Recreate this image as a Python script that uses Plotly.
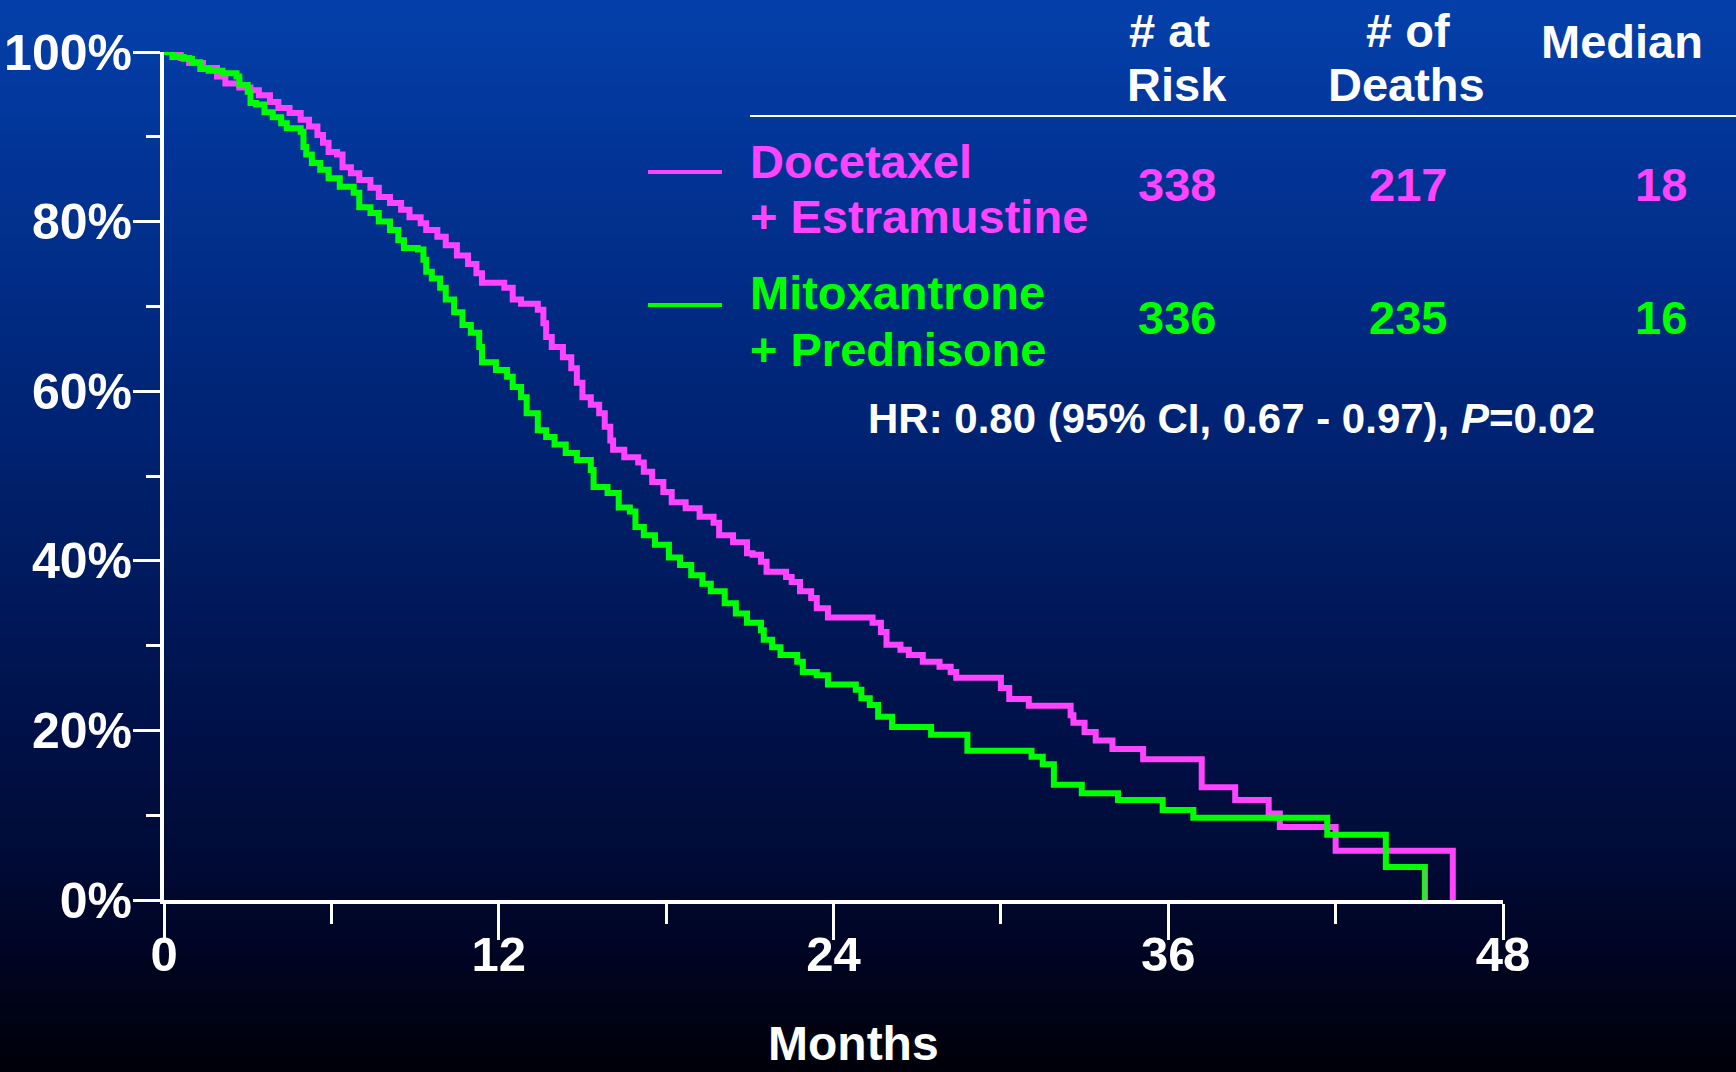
import plotly.graph_objects as go

# Kaplan-Meier steps (months, % surviving)
doc_months = [0, 0.6, 0.9, 1.4, 1.9, 2.2, 2.7, 3.1, 3.4, 3.8, 4.1, 4.5, 4.9, 5.2, 5.5, 5.7, 5.9, 6.2, 6.4, 6.7,
              7.0, 7.4, 7.7, 8.1, 8.5, 8.8, 9.2, 9.4, 9.8, 10.1, 10.5, 10.9, 11.2, 11.4, 12.2, 12.5, 12.8, 13.4,
              13.6, 13.7, 13.9, 14.3, 14.6, 14.8, 15.0, 15.3, 15.6, 15.8, 16.0, 16.1, 16.5, 17.0, 17.2, 17.5,
              17.9, 18.2, 18.7, 19.2, 19.7, 19.9, 20.4, 20.9, 21.1, 21.4, 21.6, 22.3, 22.5, 22.8, 23.2, 23.4,
              23.8, 25.4, 25.7, 25.9, 26.4, 26.7, 27.2, 27.8, 28.2, 28.4, 30.0, 30.3, 31.0, 32.5, 32.6, 33.0,
              33.4, 34.0, 35.1, 37.2, 38.4, 39.6, 40.0, 42.0, 46.2]
doc_surv = [100, 99.3, 98.7, 98.1, 97.1, 96.3, 95.8, 95.5, 94.9, 94.1, 93.4, 92.8, 92.0, 91.2, 90.2, 89.3, 88.2,
            87.9, 86.4, 85.7, 84.9, 84.0, 82.9, 82.2, 81.4, 80.5, 79.8, 79.0, 78.2, 77.2, 76.0, 75.0, 73.9, 72.8,
            72.2, 70.8, 70.3, 69.6, 68.0, 66.4, 65.2, 64.0, 62.7, 61.0, 59.3, 58.4, 57.4, 55.8, 54.2, 53.1, 52.2,
            51.6, 50.5, 49.3, 48.1, 46.9, 46.2, 45.2, 44.5, 43.0, 42.2, 40.9, 40.7, 39.9, 38.7, 38.1, 37.5, 36.4,
            35.6, 34.4, 33.3, 32.7, 31.6, 30.1, 29.5, 28.9, 28.1, 27.5, 26.9, 26.2, 25.0, 23.7, 22.9, 21.8, 20.9,
            19.8, 18.8, 17.8, 16.6, 13.3, 11.8, 10.2, 8.6, 5.8, 0]

mit_months = [0, 0.3, 0.7, 1.0, 1.3, 1.6, 2.1, 2.6, 2.7, 3.0, 3.1, 3.3, 3.6, 3.9, 4.2, 4.4, 4.9, 5.0, 5.1, 5.3,
              5.6, 5.9, 6.3, 6.8, 7.0, 7.4, 7.7, 8.1, 8.4, 8.6, 9.1, 9.3, 9.4, 9.6, 9.9, 10.1, 10.4, 10.7, 11.0,
              11.3, 11.4, 11.9, 12.3, 12.5, 12.8, 13.0, 13.4, 13.7, 14.0, 14.4, 14.8, 15.3, 15.4, 15.9, 16.3,
              16.7, 16.9, 17.2, 17.6, 18.1, 18.5, 18.9, 19.3, 19.6, 20.1, 20.5, 20.9, 21.4, 21.5, 21.8, 22.1,
              22.7, 22.9, 23.4, 23.8, 24.8, 25.0, 25.3, 25.6, 26.1, 27.5, 28.8, 31.1, 31.5, 31.9, 32.9, 34.2,
              35.8, 36.9, 41.7, 43.8, 45.2]
mit_surv = [100, 99.4, 99.2, 98.8, 98.0, 97.8, 97.5, 97.1, 96.1, 95.3, 94.0, 93.8, 92.9, 92.3, 91.6, 91.0, 90.6,
            88.8, 87.9, 86.9, 86.1, 85.1, 84.1, 83.4, 81.7, 81.0, 80.0, 79.0, 77.8, 76.9, 76.7, 75.5, 74.1, 73.3,
            72.2, 70.8, 69.3, 67.8, 66.9, 65.2, 63.4, 62.5, 61.7, 60.5, 59.3, 57.4, 55.4, 54.6, 53.7, 52.7, 51.9,
            50.7, 48.7, 48.0, 46.3, 45.8, 44.0, 43.0, 41.9, 40.4, 39.5, 38.3, 37.3, 36.4, 35.0, 33.8, 32.7, 31.8,
            30.7, 29.8, 28.9, 28.1, 26.9, 26.5, 25.4, 24.8, 23.8, 23.0, 21.6, 20.4, 19.5, 17.6, 16.9, 16.0, 13.6,
            12.6, 11.8, 10.6, 9.7, 7.7, 3.9, 0]

# summary table
arm_lines = [["Docetaxel", "+ Estramustine"], ["Mitoxantrone", "+ Prednisone"]]
at_risk = [338, 336]
deaths = [217, 235]
medians = [18, 16]
col_headers = [["# at", "Risk"], ["# of", "Deaths"], ["Median"]]
hr_text = "HR: 0.80 (95% CI, 0.67 - 0.97), <i>P</i>=0.02"

x_ticks = [0, 12, 24, 36, 48]
y_ticks = [0, 20, 40, 60, 80, 100]

MAGENTA = "#ff44ff"
GREEN = "#00ff00"
FONT = "Liberation Sans, Arial, sans-serif"

W, H = 1736, 1072
L, R, T, B = 164, 1503, 52, 900  # plot area in pixels


def px(x, y):
    """pixel position -> paper coords"""
    return (x - L) / (R - L), (B - y) / (B - T)


fig = go.Figure()

# background gradient as stacked bands
stops = [(0.0, (4, 64, 170)), (0.15, (2, 52, 150)), (0.35, (0, 38, 122)), (0.55, (0, 25, 92)),
         (0.75, (0, 13, 62)), (0.88, (0, 5, 38)), (1.0, (0, 0, 8))]
n_bands = 64
for i in range(n_bands):
    f = (i + 0.5) / n_bands
    for (a, ca), (b, cb) in zip(stops[:-1], stops[1:]):
        if a <= f <= b:
            k = (f - a) / (b - a)
            col = tuple(round(ca[j] + (cb[j] - ca[j]) * k) for j in range(3))
            break
    x0, y0 = px(0, H * i / n_bands)
    x1, y1 = px(W, H * (i + 1) / n_bands + 1)
    fig.add_shape(type="rect", xref="paper", yref="paper", x0=x0, x1=x1, y0=y1, y1=y0,
                  fillcolor="rgb(%d,%d,%d)" % col, line_width=0, layer="below")

fig.add_trace(go.Scatter(x=doc_months, y=doc_surv, mode="lines", line=dict(color=MAGENTA, width=6, shape="hv"),
                         showlegend=False, hoverinfo="skip"))
fig.add_trace(go.Scatter(x=mit_months, y=mit_surv, mode="lines", line=dict(color=GREEN, width=6, shape="hv"),
                         showlegend=False, hoverinfo="skip"))
# last drop of the green curve is drawn lighter on the slide
fig.add_trace(go.Scatter(x=[mit_months[-1], mit_months[-1]], y=[mit_surv[-2], mit_surv[-1]], mode="lines",
                         line=dict(color="#55cc55", width=4), showlegend=False, hoverinfo="skip"))

annotations = []


def label(text, x, y, color="white", size=47, anchor="center", yanchor="middle"):
    xp, yp = px(x, y)
    annotations.append(dict(text="<b>%s</b>" % text, x=xp, y=yp, xref="paper", yref="paper",
                            xanchor=anchor, yanchor=yanchor, showarrow=False,
                            font=dict(family=FONT, size=size, color=color)))


# table headers
label(col_headers[0][0], 1169, 31)
label(col_headers[0][1], 1177, 85)
label(col_headers[1][0], 1408, 30)
label(col_headers[1][1], 1406, 85)
label(col_headers[2][0], 1622, 41)

row_y = [(161, 217, 185), (292, 350, 318)]
colors = [MAGENTA, GREEN]
for i in range(2):
    y1, y2, ym = row_y[i]
    label(arm_lines[i][0], 748, y1, colors[i], anchor="left")
    label(arm_lines[i][1], 748, y2, colors[i], anchor="left")
    label(str(at_risk[i]), 1177, ym, colors[i])
    label(str(deaths[i]), 1408, ym, colors[i])
    label(str(medians[i]), 1661, ym, colors[i])
    lx0, ly = px(648, ym - 13)
    lx1, _ = px(722, ym - 13)
    fig.add_shape(type="line", xref="paper", yref="paper", x0=lx0, x1=lx1, y0=ly, y1=ly,
                  line=dict(color=colors[i], width=4))

# rule under the headers
rx0, ry = px(750, 116)
rx1, _ = px(W, 116)
fig.add_shape(type="line", xref="paper", yref="paper", x0=rx0, x1=rx1, y0=ry, y1=ry,
              line=dict(color="white", width=2))

label(hr_text, 1231, 418, size=42)
label("Months", 853, 1072, size=48, yanchor="bottom")

fig.update_xaxes(range=[0, 48], tickvals=x_ticks, ticks="outside", ticklen=36, tickwidth=3, tickcolor="white",
                 showline=True, linecolor="white", linewidth=4, showgrid=False, zeroline=False,
                 automargin=False, ticklabelstandoff=-28,
                 tickfont=dict(family=FONT, size=49, color="white", weight="bold"),
                 minor=dict(tickvals=[6, 18, 30, 42], ticks="outside", ticklen=20, tickwidth=3,
                            tickcolor="white", showgrid=False))
fig.update_yaxes(range=[0, 100], tickvals=y_ticks, ticktext=["%d%%" % v for v in y_ticks], ticks="outside",
                 ticklen=27, tickwidth=3, tickcolor="white", showline=True, linecolor="white", linewidth=4,
                 showgrid=False, zeroline=False, automargin=False, ticklabelstandoff=-9,
                 tickfont=dict(family=FONT, size=50, color="white", weight="bold"),
                 minor=dict(tickvals=[10, 30, 50, 70, 90], ticks="outside", ticklen=14, tickwidth=3,
                            tickcolor="white", showgrid=False))

fig.update_layout(width=W, height=H, margin=dict(l=L, r=W - R, t=T, b=H - B, pad=0),
                  paper_bgcolor="black", plot_bgcolor="rgba(0,0,0,0)", annotations=annotations)

fig.write_html("out.html", config={"displayModeBar": False},
               post_script="document.body.style.margin='0';document.body.style.overflow='hidden';")
